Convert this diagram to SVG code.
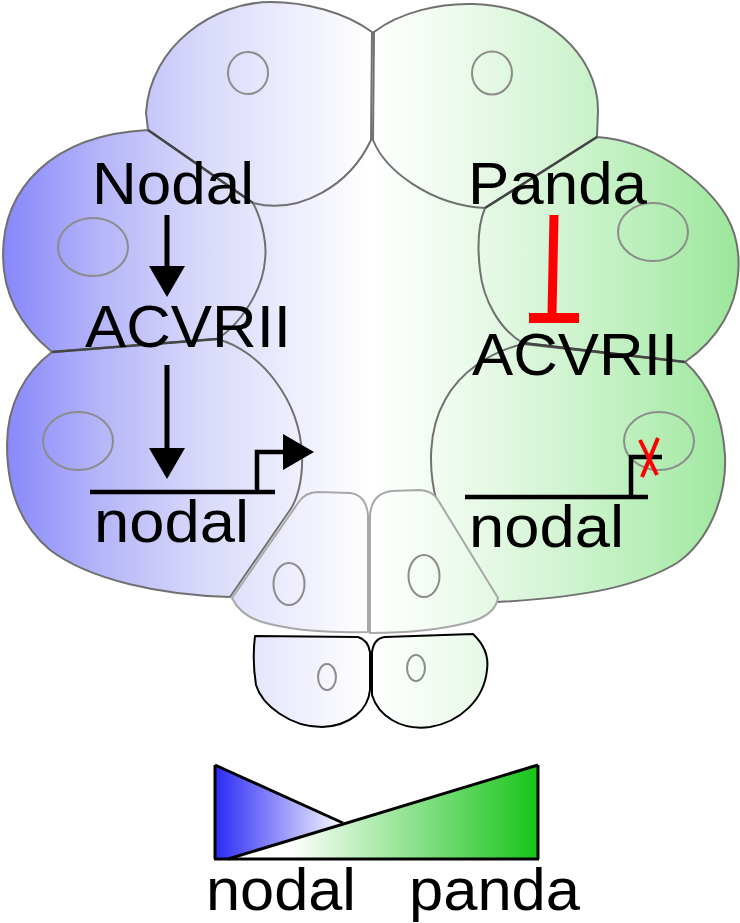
<svg xmlns="http://www.w3.org/2000/svg" width="740" height="923" viewBox="0 0 740 923">
<defs>
<linearGradient id="embryo" gradientUnits="userSpaceOnUse" x1="0" y1="0" x2="740" y2="0">
<stop offset="0" stop-color="#8585fc"/>
<stop offset="0.135" stop-color="#b5b5f9"/>
<stop offset="0.27" stop-color="#d8d8fb"/>
<stop offset="0.405" stop-color="#efeffd"/>
<stop offset="0.5" stop-color="#ffffff"/>
<stop offset="0.608" stop-color="#effbef"/>
<stop offset="0.743" stop-color="#d5f5d5"/>
<stop offset="0.878" stop-color="#b8eeb8"/>
<stop offset="1" stop-color="#9ae69a"/>
</linearGradient>
<linearGradient id="legBlue" gradientUnits="userSpaceOnUse" x1="215" y1="0" x2="345" y2="0">
<stop offset="0" stop-color="#2a2af5"/>
<stop offset="1" stop-color="#ffffff"/>
</linearGradient>
<linearGradient id="legGreen" gradientUnits="userSpaceOnUse" x1="290" y1="0" x2="538" y2="0">
<stop offset="0" stop-color="#ffffff"/>
<stop offset="1" stop-color="#18c418"/>
</linearGradient>
<marker id="ah" markerUnits="userSpaceOnUse" markerWidth="32" markerHeight="36" viewBox="0 0 32 36" refX="0" refY="18" orient="auto" overflow="visible">
<path d="M0,0 L31,18 L0,36 Z" fill="#000"/>
</marker>
</defs>
<style>
.cell{fill:url(#embryo);stroke:#707070;stroke-width:2;stroke-linejoin:round}
.cellv{fill:url(#embryo);stroke:#a8a8a8;stroke-width:2;stroke-linejoin:round}
.cellb{fill:url(#embryo);stroke:#000;stroke-width:2;stroke-linejoin:round}
.nuc{fill:none;stroke:#8c8c8c;stroke-width:2}
.border{stroke:#454545;stroke-width:2.5;fill:none}
.lbl{font-family:"Liberation Sans",Arial,sans-serif;font-size:59px;fill:#000}
.act{stroke:#000;stroke-width:5;fill:none}
.gene{stroke:#000;stroke-width:4.5;fill:none}
.leg{stroke:#000;stroke-width:3;fill:none}
</style>
<rect width="740" height="923" fill="#fff"/>
<polygon id="blastocoel" points="240,190 372,120 500,200 520,345 440,400 437,510 370,520 290,515 302,450 215,340 260,250" fill="url(#embryo)"/>

<g id="cell-tl">
<path class="cell" d="M148,130 L253,203 C300,215 350,185 371,140 L372,32 C345,12 305,2 270,2 C215,2 150,45 146,113 Z"/>
<ellipse class="nuc" cx="248" cy="73" rx="20" ry="21"/>
</g>
<g id="cell-tr">
<path class="cell" d="M374,32 C400,12 440,3 473,4 C545,5 598,55 598,110 L597,137 L485,208 C430,205 385,170 373,140 Z"/>
<ellipse class="nuc" cx="492" cy="73" rx="20" ry="21.5"/>
</g>
<g id="cell-ml">
<path class="cell" d="M148,130 L253,203 C263,222 267,245 265,260 C263,290 240,325 217,339 L52,352 C25,330 3,300 3,255 C3,190 50,135 148,130 Z"/>
<ellipse class="nuc" cx="93" cy="247" rx="35" ry="29"/>
</g>
<g id="cell-mr">
<path class="cell" d="M597,137 C650,140 705,180 727,217 C737,235 740,255 738,275 C736,305 720,338 685,362 L523,343 C500,330 483,300 480,270 C477,245 478,225 485,208 Z"/>
<ellipse class="nuc" cx="653" cy="232" rx="35" ry="29"/>
</g>
<g id="cell-ll">
<path class="cell" d="M52,352 L217,339 C260,350 300,400 302,455 C303,480 297,500 290,510 L230,597 C160,595 90,580 50,550 C20,525 7,490 7,445 C7,405 25,372 52,352 Z"/>
<ellipse class="nuc" cx="78" cy="441" rx="35" ry="29"/>
</g>
<g id="cell-lr">
<path class="cell" d="M523,344 L685,362 C705,380 722,410 725,455 C727,495 710,540 677,563 C640,585 590,597 498,602 L437,503 C428,470 428,430 445,400 C460,372 490,352 523,344 Z"/>
<ellipse class="nuc" cx="659" cy="441" rx="35" ry="29"/>
</g>
<g id="cell-vl">
<path class="cellv" d="M232,598 L298,503 Q305,492 318,492 L350,493 Q366,495 368,515 L368,632 C330,633 290,630 262,622 Q240,615 232,598 Z"/>
<ellipse class="nuc" cx="289" cy="584" rx="15.5" ry="21"/>
</g>
<g id="cell-vr">
<path class="cellv" d="M370,515 Q372,493 392,491 L420,490 Q433,491 438,500 L498,598 Q495,615 470,622 C440,630 400,633 370,633 Z"/>
<ellipse class="nuc" cx="424" cy="576" rx="15.5" ry="21"/>
</g>
<g id="cell-bl">
<path class="cellb" d="M255,636 L358,637 Q368,640 370,652 L370,690 C368,710 350,726 322,727 C290,727 262,705 256,685 Q252,660 255,636 Z"/>
<ellipse class="nuc" cx="327" cy="677" rx="9" ry="13"/>
</g>
<g id="cell-br">
<path class="cellb" d="M372,652 Q374,638 385,637 L473,634 Q490,650 487,670 C484,700 460,722 430,727 C400,731 378,715 372,695 Z"/>
<ellipse class="nuc" cx="416" cy="668" rx="9" ry="13"/>
</g>
<g id="cell-borders">
<line class="border" x1="148" y1="130" x2="253" y2="203"/>
<line class="border" x1="485" y1="208" x2="597" y2="137"/>
<line class="border" x1="52" y1="352" x2="217" y2="339"/>
<line class="border" x1="523" y1="343" x2="685" y2="362"/>
</g>

<g id="label-nodal-protein"><text class="lbl" x="92" y="204" textLength="162" lengthAdjust="spacingAndGlyphs">Nodal</text></g>
<g id="label-panda-protein"><text class="lbl" x="468" y="204" textLength="179" lengthAdjust="spacingAndGlyphs">Panda</text></g>
<g id="label-acvrii-left"><text class="lbl" x="85" y="347" textLength="206" lengthAdjust="spacingAndGlyphs">ACVRII</text></g>
<g id="label-acvrii-right"><text class="lbl" x="472" y="375" textLength="206" lengthAdjust="spacingAndGlyphs">ACVRII</text></g>
<g id="label-nodal-gene-left"><text class="lbl" x="94" y="542" textLength="155" lengthAdjust="spacingAndGlyphs">nodal</text></g>
<g id="label-nodal-gene-right"><text class="lbl" x="469" y="547" textLength="155" lengthAdjust="spacingAndGlyphs">nodal</text></g>

<g id="connectors">
<path class="act" d="M167,215 V266" marker-end="url(#ah)"/>
<path class="act" d="M167,365 V448" marker-end="url(#ah)"/>
<line class="gene" x1="90" y1="492" x2="275" y2="492"/>
<path class="gene" d="M257,492 V452 H283" marker-end="url(#ah)"/>
<line x1="554" y1="215" x2="552" y2="314" stroke="#ff0000" stroke-width="9"/>
<rect x="529" y="313" width="50" height="10" fill="#ff0000"/>
<line class="gene" x1="465" y1="497" x2="648" y2="497"/>
<path class="gene" d="M631,497 V457 H662"/>
<line x1="640" y1="440" x2="657" y2="475" stroke="#ff0000" stroke-width="4"/>
<line x1="658" y1="438" x2="642" y2="477" stroke="#ff0000" stroke-width="4"/>
</g>

<g id="legend">
<polygon points="215,765 343,823 228,859 215,859" fill="url(#legBlue)"/>
<polygon points="228,859 538,765 538,859" fill="url(#legGreen)"/>
<line class="leg" x1="215" y1="765" x2="215" y2="859"/>
<line class="leg" x1="215" y1="765" x2="343" y2="823"/>
<line class="leg" x1="228" y1="859" x2="538" y2="765"/>
<line class="leg" x1="538" y1="765" x2="538" y2="859"/>
<line class="leg" x1="214" y1="859" x2="539" y2="859"/>
<text class="lbl" x="206" y="910" textLength="150" lengthAdjust="spacingAndGlyphs">nodal</text>
<text class="lbl" x="409" y="910" textLength="171" lengthAdjust="spacingAndGlyphs">panda</text>
</g>
</svg>
